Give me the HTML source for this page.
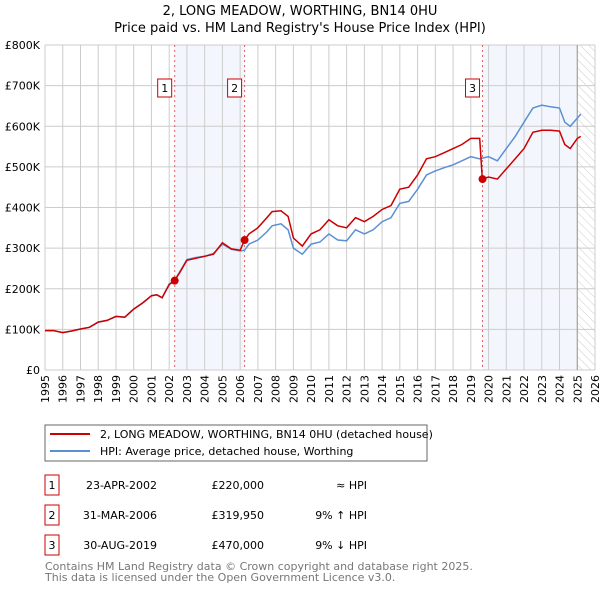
<!DOCTYPE html>
<html><head><meta charset="utf-8"><style>
body{margin:0;background:#fff;font-family:"DejaVu Sans","Liberation Sans",sans-serif;}
svg text{font-family:"DejaVu Sans","Liberation Sans",sans-serif;}
</style></head><body>
<svg id="c" width="600" height="590" xmlns="http://www.w3.org/2000/svg">
<defs><pattern id="hatch" width="6" height="6" patternUnits="userSpaceOnUse" patternTransform="rotate(-45)"><line x1="0" y1="0" x2="0" y2="6" stroke="#ccc" stroke-width="1"/></pattern></defs>
<text x="300" y="15" text-anchor="middle" font-size="13">2, LONG MEADOW, WORTHING, BN14 0HU</text>
<text x="300" y="32" text-anchor="middle" font-size="13">Price paid vs. HM Land Registry's House Price Index (HPI)</text>
<g id="plot"></g>
<rect x="45" y="425" width="382" height="36" fill="#fff" stroke="#666"/>
<line x1="50" y1="434" x2="90" y2="434" stroke="#cc0000" stroke-width="2"/>
<text x="100" y="438" font-size="11">2, LONG MEADOW, WORTHING, BN14 0HU (detached house)</text>
<line x1="50" y1="451" x2="90" y2="451" stroke="#5b8fd4" stroke-width="2"/>
<text x="100" y="455" font-size="11">HPI: Average price, detached house, Worthing</text>
<g id="tbl" font-size="11"></g>
<text x="45" y="570" font-size="11" fill="#777">Contains HM Land Registry data © Crown copyright and database right 2025.</text>
<text x="45" y="581" font-size="11" fill="#777">This data is licensed under the Open Government Licence v3.0.</text>
</svg>
<script>
const years=[1995,1996,1997,1998,1999,2000,2001,2002,2003,2004,2005,2006,2007,2008,2009,2010,2011,2012,2013,2014,2015,2016,2017,2018,2019,2020,2021,2022,2023,2024,2025,2026];
const yTicks=[0,100,200,300,400,500,600,700,800];
const yTickLabels=["£0","£100K","£200K","£300K","£400K","£500K","£600K","£700K","£800K"];
const priceT=[1995,1995.5,1996,1996.5,1997,1997.5,1998,1998.5,1999,1999.5,2000,2000.5,2001,2001.3,2001.6,2002,2002.3,2002.6,2003,2003.5,2004,2004.5,2005,2005.5,2006,2006.25,2006.5,2007,2007.5,2007.8,2008.3,2008.7,2009,2009.5,2010,2010.5,2011,2011.5,2012,2012.5,2013,2013.5,2014,2014.5,2015,2015.5,2016,2016.5,2017,2017.5,2018,2018.5,2019,2019.5,2019.65,2020,2020.5,2021,2021.5,2022,2022.5,2023,2023.5,2024,2024.3,2024.6,2025,2025.2];
const priceV=[97,97,92,96,101,105,118,122,132,130,150,165,183,185,178,210,220,240,270,275,280,285,313,298,295,320,335,350,375,390,392,378,325,305,335,345,370,355,350,375,365,378,395,405,445,450,480,520,525,535,545,555,570,570,470,475,470,495,520,545,585,590,590,588,555,545,570,575];
const hpiT=[1995,1995.5,1996,1996.5,1997,1997.5,1998,1998.5,1999,1999.5,2000,2000.5,2001,2001.3,2001.6,2002,2002.3,2002.6,2003,2003.5,2004,2004.5,2005,2005.5,2006,2006.25,2006.5,2007,2007.5,2007.8,2008.3,2008.7,2009,2009.5,2010,2010.5,2011,2011.5,2012,2012.5,2013,2013.5,2014,2014.5,2015,2015.5,2016,2016.5,2017,2017.5,2018,2018.5,2019,2019.5,2020,2020.5,2021,2021.5,2022,2022.5,2023,2023.5,2024,2024.3,2024.6,2025,2025.2];
const hpiV=[97,97,92,96,101,105,118,122,132,130,150,165,183,185,178,212,220,242,272,277,280,287,310,297,293,295,310,320,340,355,360,345,300,285,310,315,335,320,318,345,335,345,365,375,410,415,445,480,490,498,505,515,525,520,525,515,545,575,610,645,652,648,645,610,600,620,630];
const saleT=[2002.31,2006.25,2019.66];
const saleV=[220,319.95,470];
const saleLabels=["1","2","3"];
const rowDates=["23-APR-2002","31-MAR-2006","30-AUG-2019"];
const rowPrices=["£220,000","£319,950","£470,000"];
const rowHpi=["≈ HPI","9% ↑ HPI","9% ↓ HPI"];

const X0=45,X1=595,Y0=370,Y1=45;
const xs=t=>X0+(t-1995)/(2026-1995)*(X1-X0);
const ys=v=>Y0-v/800*(Y0-Y1);
const NS="http://www.w3.org/2000/svg";
const plot=document.getElementById('plot');
function mk(tag,attrs,parent){const e=document.createElementNS(NS,tag);for(const k in attrs)e.setAttribute(k,attrs[k]);(parent||plot).appendChild(e);return e;}
let e;
e=mk('rect',{x:xs(saleT[0]),y:Y1,width:xs(saleT[1])-xs(saleT[0]),height:Y0-Y1,fill:'#eef3fc',opacity:0.7});


e=mk('rect',{x:xs(saleT[2]),y:Y1,width:xs(2025)-xs(saleT[2]),height:Y0-Y1,fill:'#eef3fc',opacity:0.7});


e=mk('rect',{x:xs(2025),y:Y1,width:X1-xs(2025),height:Y0-Y1,fill:'url(#hatch)'});


years.forEach(y=>{
  e=mk('line',{x1:xs(y),x2:xs(y),y1:Y1,y2:Y0,stroke:'#ccc','stroke-width':1});
  
  
  e=mk('text',{x:0,y:0,'font-size':11,'text-anchor':'end',transform:`translate(${xs(y)+4},${Y0+5}) rotate(-90)`});
  e.textContent=y;
  
  
});
yTicks.forEach((v,i)=>{
  e=mk('line',{x1:X0,x2:X1,y1:ys(v),y2:ys(v),stroke:'#ccc','stroke-width':1});
  
  
  e=mk('text',{x:X0-5,y:ys(v)+4,'font-size':11,'text-anchor':'end'});
  e.textContent=yTickLabels[i];
  
  
});
e=mk('line',{x1:xs(2025),x2:xs(2025),y1:Y1,y2:Y0,stroke:'#999','stroke-width':1});


saleT.forEach((t,i)=>{
  e=mk('line',{x1:xs(t),x2:xs(t),y1:Y1,y2:Y0,stroke:'#e06060','stroke-width':1,'stroke-dasharray':'2,3'});
  
  
});
function path(T,V){return T.map((t,i)=>(i?'L':'M')+xs(t).toFixed(1)+','+ys(V[i]).toFixed(1)).join('');}
e=mk('path',{d:path(hpiT,hpiV),fill:'none',stroke:'#5b8fd4','stroke-width':1.5});


e=mk('path',{d:path(priceT,priceV),fill:'none',stroke:'#cc0000','stroke-width':1.5});


saleT.forEach((t,i)=>{
  e=mk('circle',{cx:xs(t),cy:ys(saleV[i]),r:4,fill:'#cc0000'});
  
  
  const bx=xs(t)-17;
  e=mk('rect',{x:bx,y:79,width:14,height:18,fill:'#fff',stroke:'#cc0000'});
  
  
  e=mk('text',{x:bx+7,y:92,'font-size':11,'text-anchor':'middle'});
  e.textContent=saleLabels[i];
  
  
});
const tbl=document.getElementById('tbl');
saleLabels.forEach((l,i)=>{
  const y=475+i*30;
  e=mk('rect',{x:45,y:y,width:14,height:20,fill:'#fff',stroke:'#cc0000'},tbl);
  
  
  e=mk('text',{x:52,y:y+14,'text-anchor':'middle'},tbl);e.textContent=l;
  
  
  e=mk('text',{x:157,y:y+14,'text-anchor':'end'},tbl);e.textContent=rowDates[i];
  
  
  e=mk('text',{x:264,y:y+14,'text-anchor':'end'},tbl);e.textContent=rowPrices[i];
  
  
  e=mk('text',{x:367,y:y+14,'text-anchor':'end'},tbl);e.textContent=rowHpi[i];
  
  
});
</script>
</body></html>
